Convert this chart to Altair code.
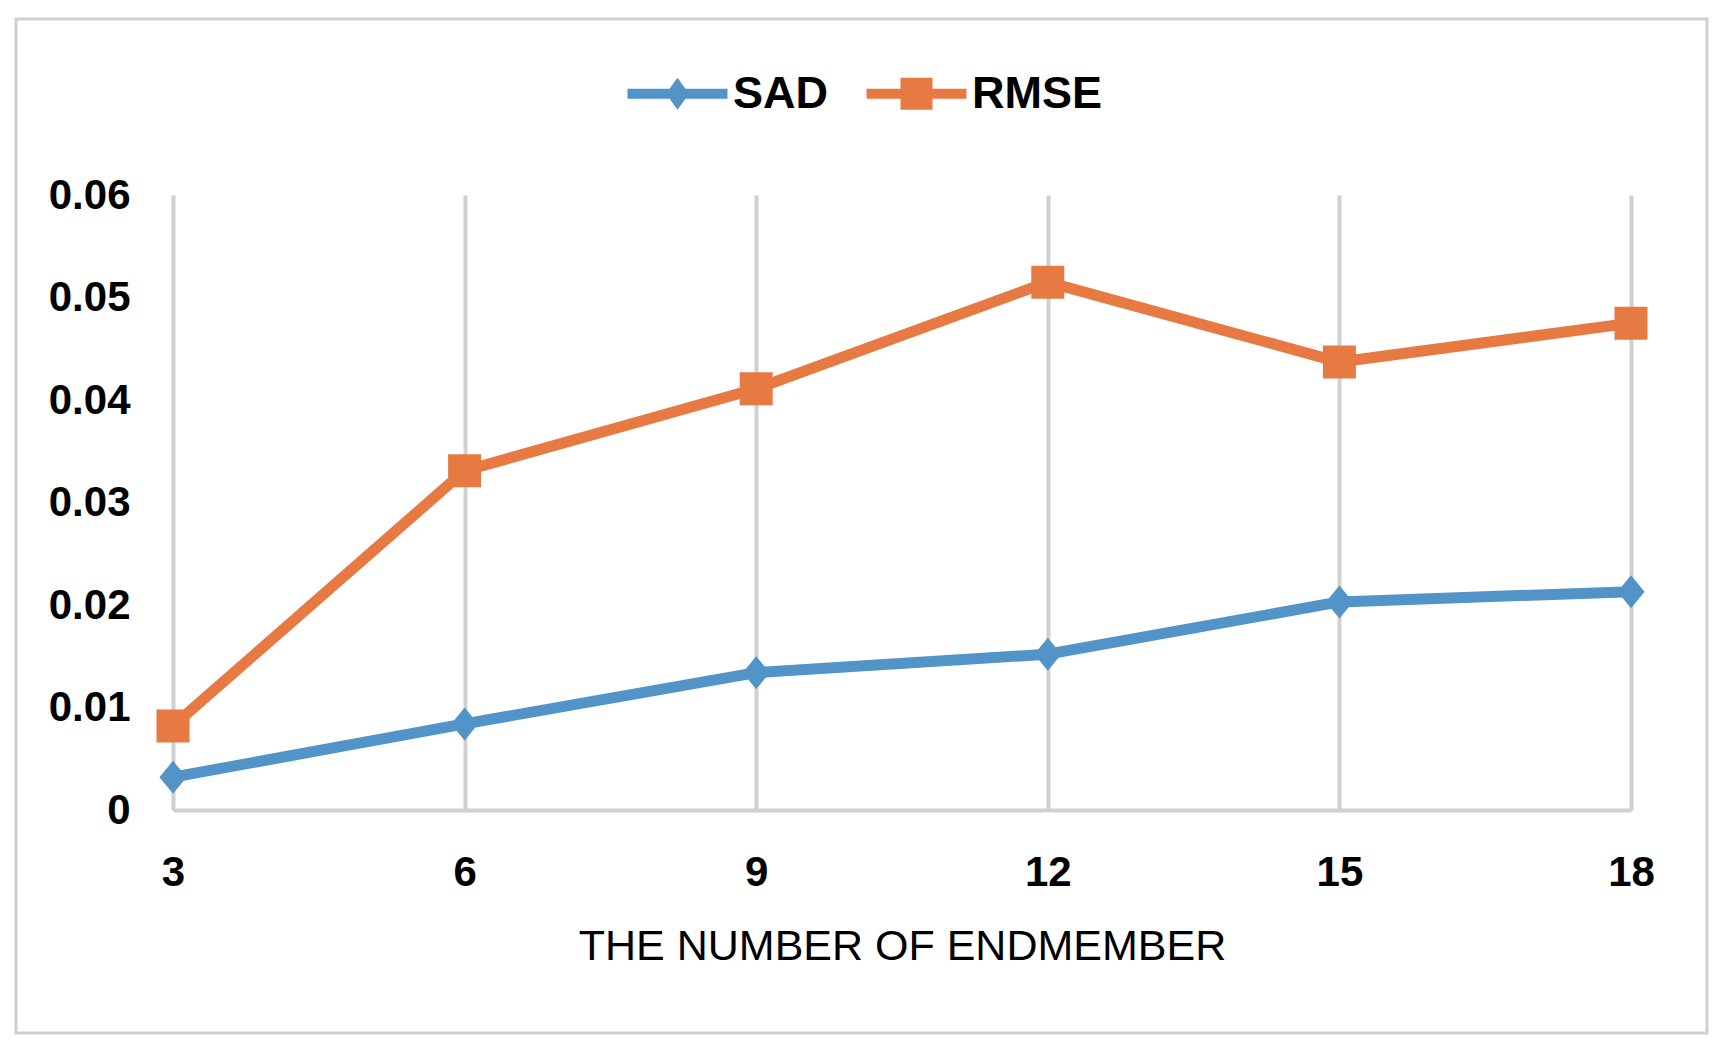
import altair as alt
import pandas as pd

ENDMEMBERS = [3, 6, 9, 12, 15, 18]
SAD = [0.0032, 0.0084, 0.0134, 0.0152, 0.0203, 0.0213]
RMSE = [0.0082, 0.0331, 0.0411, 0.0515, 0.0437, 0.0475]
SERIES = ["SAD", "RMSE"]
COLORS = ["#5293C8", "#E67A42"]
Y_TICKS = [0, 0.01, 0.02, 0.03, 0.04, 0.05, 0.06]
X_TITLE = "THE NUMBER OF ENDMEMBER"

rows = []
for n, v in zip(ENDMEMBERS, SAD):
    rows.append({"n": n, "value": v, "series": "SAD"})
for n, v in zip(ENDMEMBERS, RMSE):
    rows.append({"n": n, "value": v, "series": "RMSE"})
df = pd.DataFrame(rows)

FONT = "Liberation Sans"
GRID = "#D0D0D0"

LEG_SAD = "M-3.125,-0.3125H3.125V0.3125H-3.125Z M0,-1L0.72,0L0,1L-0.72,0Z"
LEG_RMSE = "M-3.125,-0.3125H3.125V0.3125H-3.125Z M-1,-1H1V1H-1Z"
DIAMOND = "M0,-1L0.82,0L0,1L-0.82,0Z"

x_enc = alt.X(
    "n:O",
    scale=alt.Scale(type="point", padding=0),
    axis=alt.Axis(
        title=X_TITLE,
        labelAngle=0,
        labelFont=FONT,
        labelFontSize=42,
        labelFontWeight="bold",
        labelColor="black",
        labelPadding=42,
        ticks=False,
        grid=True,
        gridColor=GRID,
        gridWidth=4,
        domain=True,
        domainColor=GRID,
        domainWidth=4,
        titleFont=FONT,
        titleFontSize=43,
        titleFontWeight="normal",
        titleColor="black",
        titleBaseline="alphabetic",
        titleY=149,
    ),
)
y_enc = alt.Y(
    "value:Q",
    scale=alt.Scale(domain=[0, 0.06], nice=False),
    axis=alt.Axis(
        title=None,
        values=Y_TICKS,
        labelExpr="datum.value == 0 ? '0' : format(datum.value, '.2f')",
        labelFont=FONT,
        labelFontSize=42,
        labelFontWeight="bold",
        labelColor="black",
        labelPadding=43,
        ticks=False,
        grid=False,
        domain=False,
    ),
)
color_scale = alt.Scale(domain=SERIES, range=COLORS)

legend = alt.Legend(
    title=None,
    orient="none",
    legendX=482,
    legendY=-124,
    direction="horizontal",
    symbolSize=1024,
    symbolStrokeWidth=0,
    symbolOpacity=1,
    labelFont=FONT,
    labelFontSize=45,
    labelFontWeight="bold",
    labelColor="black",
    labelOffset=33,
    columnPadding=37,
    padding=0,
    labelLimit=400,
)

base = alt.Chart(df)

# legend-only layer (first, so its legend settings win the merge); its marks have size 0
legend_layer = base.mark_point(filled=True, size=0, opacity=1).encode(
    x=x_enc,
    y=y_enc,
    color=alt.Color("series:N", scale=color_scale, legend=legend),
    shape=alt.Shape("series:N", scale=alt.Scale(domain=SERIES, range=[LEG_SAD, LEG_RMSE]), legend=legend),
)

lines = base.mark_line(strokeWidth=11, strokeCap="round", strokeJoin="round").encode(
    x=x_enc, y=y_enc,
    color=alt.Color("series:N", scale=color_scale, legend=None),
    detail="series:N",
)

sad_pts = base.transform_filter("datum.series == 'SAD'").mark_point(
    filled=True, shape=DIAMOND, size=1089, opacity=1, strokeWidth=0
).encode(x=x_enc, y=y_enc, color=alt.Color("series:N", scale=color_scale, legend=None))

rmse_pts = base.transform_filter("datum.series == 'RMSE'").mark_point(
    filled=True, shape="square", size=1089, opacity=1, strokeWidth=0
).encode(x=x_enc, y=y_enc, color=alt.Color("series:N", scale=color_scale, legend=None))

border = alt.Chart(pd.DataFrame({"k": [0]})).mark_rect(
    fillOpacity=0, stroke=GRID, strokeWidth=3
).encode(
    x=alt.value(-157), x2=alt.value(1534), y=alt.value(-176), y2=alt.value(838)
)

chart = alt.layer(legend_layer, border, lines, sad_pts, rmse_pts).properties(
    width=1458,
    height=615,
    padding={"left": 165, "top": 187, "right": 80, "bottom": 228},
    autosize=alt.AutoSizeParams(type="none"),
    background="white",
).configure_view(strokeWidth=0)

chart.save("out.html", embed_options={"renderer": "svg", "actions": False})
